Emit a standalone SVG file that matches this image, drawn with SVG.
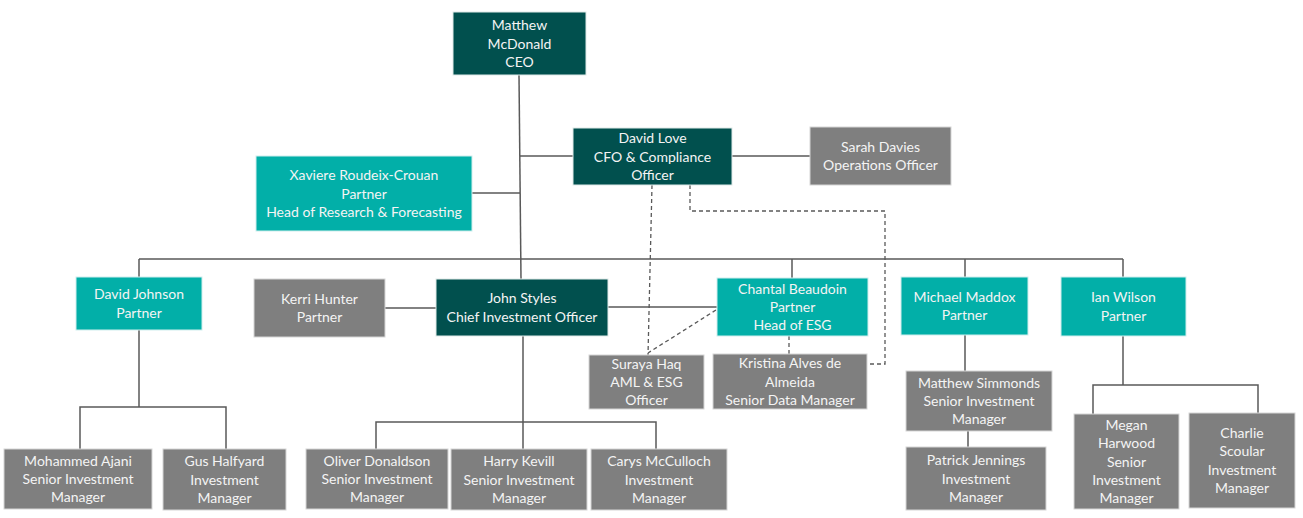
<svg xmlns="http://www.w3.org/2000/svg" width="1303" height="518" viewBox="0 0 1303 518">
<style>
.dark{fill:#01504E;stroke:#dfe9e8;stroke-width:1}
.teal{fill:#02AFA8;stroke:#cfeeed;stroke-width:1}
.gray{fill:#7F7F7F;stroke:#d6d6d6;stroke-width:1}
text{font-family:Lato,"Liberation Sans",sans-serif;font-size:14px;fill:#F4F4F4;text-anchor:middle}
.ln{fill:none;stroke:#595959;stroke-width:1.5}
.dash{fill:none;stroke:#595959;stroke-width:1.3;stroke-dasharray:4 3}
</style>
<rect width="1303" height="518" fill="#ffffff"/>
<g id="connectors">
<path class="ln" d="M519,75 L521,279"/>
<path class="ln" d="M520,156 H573"/>
<path class="ln" d="M472,193 H520"/>
<path class="ln" d="M732,156 H810"/>
<path class="ln" d="M139,259 H1123"/>
<path class="ln" d="M139,259 V277 M792,259 V278 M965,259 V277 M1123,259 V277"/>
<path class="ln" d="M385,308 H436"/>
<path class="ln" d="M608,307 H717"/>
<path class="ln" d="M139,330 V407 M80,449 V407 H226 V449"/>
<path class="ln" d="M523,336 V449 M376,449 V422 H656 V449"/>
<path class="ln" d="M965,335 V371 M968,431 V447"/>
<path class="ln" d="M1123,336 V385 M1093,414 V385 H1258 V413"/>
<path class="dash" d="M652,185 L648,355"/>
<path class="dash" d="M690,185 V211 H885 V364 H867"/>
<path class="dash" d="M716,310 L648,353"/>
<path class="dash" d="M789,336 V354"/>
</g>
<g id="ceo"><rect class="dark" x="453" y="12" width="133" height="63"/><text x="519.5" y="30.2">Matthew</text><text x="519.5" y="48.5">McDonald</text><text x="519.5" y="66.8">CEO</text></g>
<g id="david-love"><rect class="dark" x="573" y="128" width="159" height="57"/><text x="652.5" y="143.2">David Love</text><text x="652.5" y="161.5">CFO &amp; Compliance</text><text x="652.5" y="179.8">Officer</text></g>
<g id="sarah-davies"><rect class="gray" x="810" y="127" width="141" height="58"/><text x="880.5" y="151.9">Sarah Davies</text><text x="880.5" y="170.2">Operations Officer</text></g>
<g id="xaviere"><rect class="teal" x="256" y="156" width="216" height="75"/><text x="364" y="180.2">Xaviere Roudeix-Crouan</text><text x="364" y="198.5">Partner</text><text x="364" y="216.8">Head of Research &amp; Forecasting</text></g>
<g id="david-johnson"><rect class="teal" x="76" y="277" width="126" height="53"/><text x="139" y="299.4">David Johnson</text><text x="139" y="317.7">Partner</text></g>
<g id="kerri-hunter"><rect class="gray" x="254" y="279" width="131" height="58"/><text x="319.5" y="303.9">Kerri Hunter</text><text x="319.5" y="322.2">Partner</text></g>
<g id="john-styles"><rect class="dark" x="436" y="279" width="172" height="57"/><text x="522" y="303.4">John Styles</text><text x="522" y="321.7">Chief Investment Officer</text></g>
<g id="chantal"><rect class="teal" x="717" y="278" width="151" height="58"/><text x="792.5" y="293.7">Chantal Beaudoin</text><text x="792.5" y="312">Partner</text><text x="792.5" y="330.3">Head of ESG</text></g>
<g id="michael-maddox"><rect class="teal" x="901" y="277" width="127" height="58"/><text x="964.5" y="301.9">Michael Maddox</text><text x="964.5" y="320.2">Partner</text></g>
<g id="ian-wilson"><rect class="teal" x="1061" y="277" width="125" height="59"/><text x="1123.5" y="302.4">Ian Wilson</text><text x="1123.5" y="320.7">Partner</text></g>
<g id="suraya-haq"><rect class="gray" x="589" y="355" width="115" height="54"/><text x="646.5" y="368.7">Suraya Haq</text><text x="646.5" y="387">AML &amp; ESG</text><text x="646.5" y="405.3">Officer</text></g>
<g id="kristina"><rect class="gray" x="713" y="354" width="154" height="55"/><text x="790" y="368.2">Kristina Alves de</text><text x="790" y="386.5">Almeida</text><text x="790" y="404.8">Senior Data Manager</text></g>
<g id="matthew-simmonds"><rect class="gray" x="906" y="371" width="146" height="60"/><text x="979" y="387.7">Matthew Simmonds</text><text x="979" y="406">Senior Investment</text><text x="979" y="424.3">Manager</text></g>
<g id="patrick-jennings"><rect class="gray" x="906" y="447" width="140" height="63"/><text x="976" y="465.2">Patrick Jennings</text><text x="976" y="483.5">Investment</text><text x="976" y="501.8">Manager</text></g>
<g id="megan-harwood"><rect class="gray" x="1074" y="414" width="105" height="95"/><text x="1126.5" y="429.9">Megan</text><text x="1126.5" y="448.2">Harwood</text><text x="1126.5" y="466.5">Senior</text><text x="1126.5" y="484.8">Investment</text><text x="1126.5" y="503.1">Manager</text></g>
<g id="charlie-scoular"><rect class="gray" x="1189" y="413" width="106" height="95"/><text x="1242" y="438">Charlie</text><text x="1242" y="456.3">Scoular</text><text x="1242" y="474.6">Investment</text><text x="1242" y="492.9">Manager</text></g>
<g id="mohammed-ajani"><rect class="gray" x="4" y="449" width="148" height="60"/><text x="78" y="465.7">Mohammed Ajani</text><text x="78" y="484">Senior Investment</text><text x="78" y="502.3">Manager</text></g>
<g id="gus-halfyard"><rect class="gray" x="163" y="449" width="123" height="61"/><text x="224.5" y="466.2">Gus Halfyard</text><text x="224.5" y="484.5">Investment</text><text x="224.5" y="502.8">Manager</text></g>
<g id="oliver-donaldson"><rect class="gray" x="306" y="449" width="142" height="60"/><text x="377" y="465.7">Oliver Donaldson</text><text x="377" y="484">Senior Investment</text><text x="377" y="502.3">Manager</text></g>
<g id="harry-kevill"><rect class="gray" x="451" y="449" width="136" height="61"/><text x="519" y="466.2">Harry Kevill</text><text x="519" y="484.5">Senior Investment</text><text x="519" y="502.8">Manager</text></g>
<g id="carys-mcculloch"><rect class="gray" x="591" y="449" width="136" height="61"/><text x="659" y="466.2">Carys McCulloch</text><text x="659" y="484.5">Investment</text><text x="659" y="502.8">Manager</text></g>
</svg>
